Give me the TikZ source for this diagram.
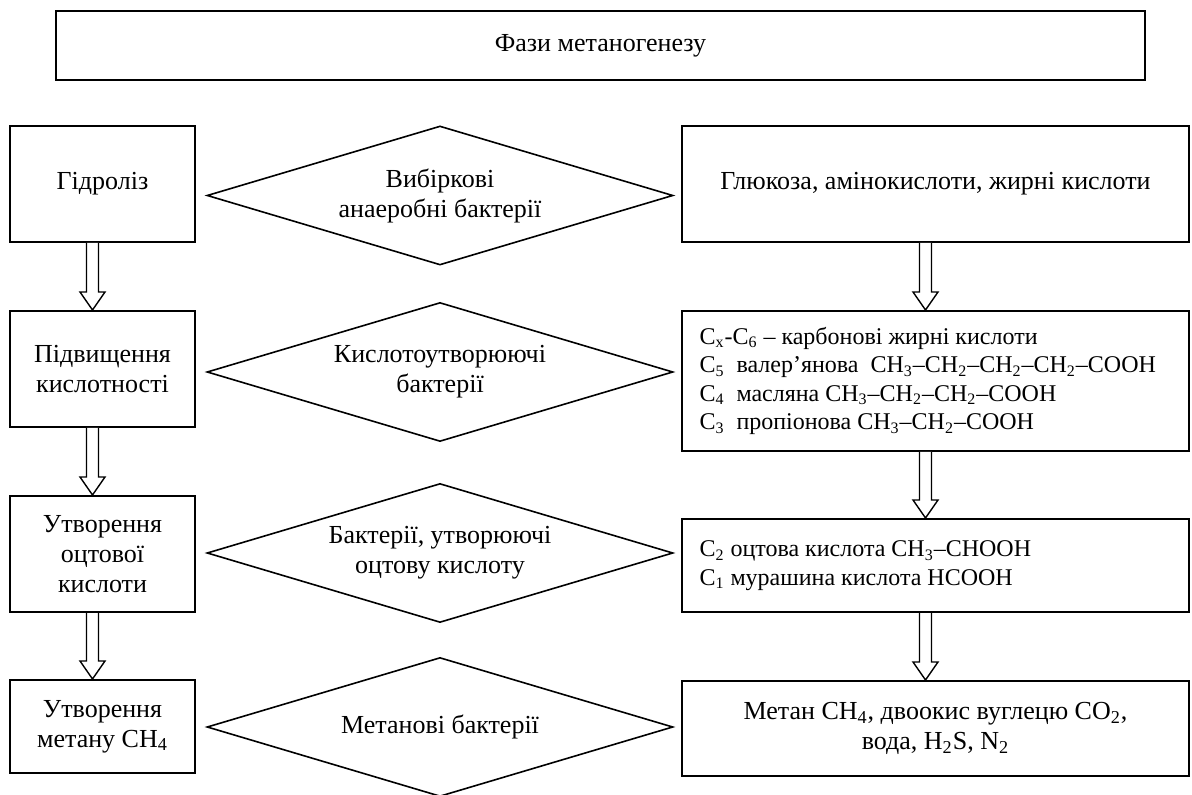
\documentclass[tikz,border=0pt]{standalone}
\usepackage{fontspec}
\setmainfont{Liberation Serif}
\usetikzlibrary{shapes.geometric}
\newcommand{\fatarrow}[2]{%
  \draw[line width=0.7pt,fill=white]
    ([xshift=-8pt]#1.south) -- ([xshift=-8pt,yshift=9pt]#2.north)
    -- ([xshift=-11.25pt,yshift=9pt]#2.north) -- ([xshift=-5pt]#2.north)
    -- ([xshift=1.25pt,yshift=9pt]#2.north) -- ([xshift=-2pt,yshift=9pt]#2.north)
    -- ([xshift=-2pt]#1.south);}
\begin{document}
\begin{tikzpicture}[x=0.5pt,y=-0.5pt, every node/.style={align=center,font=\fontsize{13}{15}\selectfont},
  box/.style={draw,line width=1pt,inner sep=0pt},
  phase/.style={box,minimum width=92.5pt,minimum height=58pt},
  product/.style={box,minimum width=253.5pt},
  acids/.style={product,text width=236pt,align=flush left,inner xsep=8.75pt,font=\fontsize{12}{14.25}\selectfont},
  diam/.style={diamond,draw,line width=0.8pt,aspect=3.35,minimum width=233pt,minimum height=69.5pt,inner sep=0pt}]
\useasboundingbox (0,0) rectangle (1192,795);
\node(title)[box,minimum width=544.5pt,minimum height=34.5pt] at (600.5,45.5) {Фази метаногенезу};
\node(L1)[phase] at (102.5,184) {Гідроліз};
\node(L2)[phase] at (102.5,369) {Підвищення\\кислотності};
\node(L3)[phase] at (102.5,554) {Утворення\\оцтової\\кислоти};
\node(L4)[phase,minimum height=46.5pt] at (102.5,726.5) {Утворення\\метану CH\textsubscript{4}};
\node(D1)[diam] at (440,195.5) {Вибіркові\\анаеробні бактерії};
\node(D2)[diam] at (440,372) {Кислотоутворюючі\\бактерії};
\node(D3)[diam] at (440,553) {Бактерії, утворюючі\\оцтову кислоту};
\node(D4)[diam] at (440,727) {Метанові бактерії};
\node(R1)[product,minimum height=58pt] at (935.5,184) {Глюкоза, амінокислоти, жирні кислоти};
\node(R2)[acids,minimum height=70pt] at (935.5,381)
  {C\textsubscript{x}-C\textsubscript{6} – карбонові жирні кислоти\\
   C\textsubscript{5}\ \ валер’янова\ \ CH\textsubscript{3}–CH\textsubscript{2}–CH\textsubscript{2}–CH\textsubscript{2}–COOH\\
   C\textsubscript{4}\ \ масляна CH\textsubscript{3}–CH\textsubscript{2}–CH\textsubscript{2}–COOH\\
   C\textsubscript{3}\ \ пропіонова CH\textsubscript{3}–CH\textsubscript{2}–COOH};
\node(R3)[acids,minimum height=46.5pt] at (935.5,565.5)
  {C\textsubscript{2} оцтова кислота CH\textsubscript{3}–CHOOH\\
   C\textsubscript{1} мурашина кислота HCOOH};
\node(R4)[product,minimum height=47.5pt] at (935.5,728.5)
  {Метан CH\textsubscript{4}, двоокис вуглецю CO\textsubscript{2},\\вода, H\textsubscript{2}S, N\textsubscript{2}};
\foreach \a/\b in {L1/L2,L2/L3,L3/L4,R1/R2,R2/R3,R3/R4}
  \fatarrow{\a}{\b};
\end{tikzpicture}
\end{document}
